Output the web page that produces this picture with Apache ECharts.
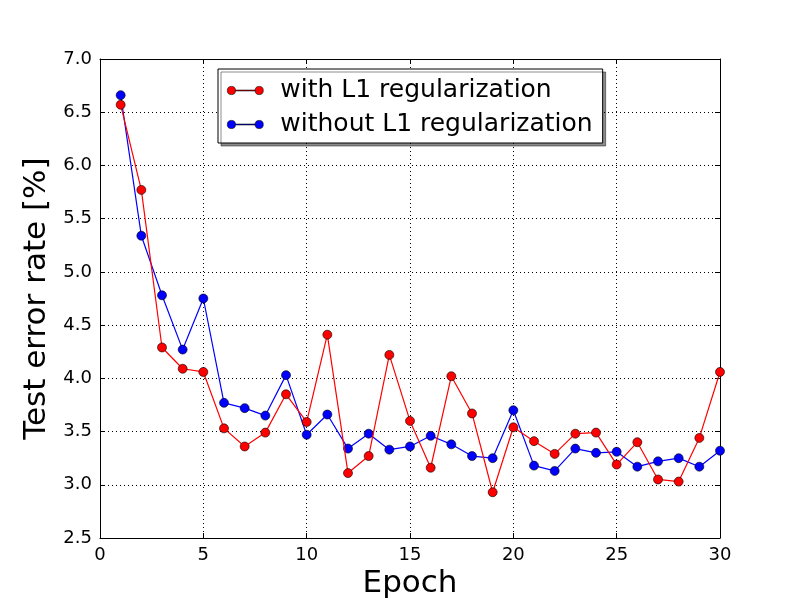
<!DOCTYPE html>
<html>
<head>
<meta charset="utf-8">
<script src="https://cdn.jsdelivr.net/npm/echarts@6/dist/echarts.min.js"></script>
<style>html,body{margin:0;padding:0;background:#fff;}#c{width:800px;height:598px;}</style>
</head>
<body>
<div id="c"></div>
<script>
var epochs = [1,2,3,4,5,6,7,8,9,10,11,12,13,14,15,16,17,18,19,20,21,22,23,24,25,26,27,28,29,30];
var withL1 = [6.57,5.77,4.29,4.09,4.06,3.53,3.36,3.49,3.85,3.59,4.41,3.11,3.27,4.22,3.60,3.16,4.02,3.67,2.93,3.54,3.41,3.29,3.48,3.49,3.19,3.40,3.05,3.03,3.44,4.06];
var withoutL1 = [6.66,5.34,4.78,4.27,4.75,3.77,3.72,3.65,4.03,3.47,3.66,3.34,3.48,3.33,3.36,3.46,3.38,3.27,3.25,3.70,3.18,3.13,3.34,3.30,3.31,3.17,3.22,3.25,3.17,3.32];
var seriesNames = ['with L1 regularization','without L1 regularization'];
var xTicks = [0,5,10,15,20,25,30];
var yTicks = [2.5,3.0,3.5,4.0,4.5,5.0,5.5,6.0,6.5,7.0];

function pairs(vals){ return epochs.map(function(e,i){ return [e, vals[i]]; }); }

var FONT = 'DejaVu Sans';
var chart = echarts.init(document.getElementById('c'), null, {renderer:'canvas'});
var icon = 'path://M1,5 A4,4 0 1,1 9,5 A4,4 0 1,1 1,5 Z M9,4.6 L28,4.6 L28,5.4 L9,5.4 Z M28,5 A4,4 0 1,1 36,5 A4,4 0 1,1 28,5 Z';
var axisLineStyle = {color:'#000', width:1};
var tickCommon = {show:true, inside:true, length:5, lineStyle:{color:'#000', width:1}};
chart.setOption({
  animation:false,
  backgroundColor:'#fff',
  textStyle:{fontFamily:FONT},
  grid:{left:100, right:80, top:59, bottom:60, outerBoundsMode:'none'},
  legend:{
    left:218, top:69, width:386, height:74,
    orient:'vertical',
    padding:[9,10,6,9],
    itemGap:9,
    itemWidth:36, itemHeight:10,
    backgroundColor:'#fff',
    borderColor:'#000', borderWidth:1,
    shadowColor:'rgba(0,0,0,0.45)', shadowOffsetX:3, shadowOffsetY:3, shadowBlur:0,
    icon:icon,
    itemStyle:{borderColor:'#000', borderWidth:0.6},
    textStyle:{fontFamily:FONT, fontSize:25, color:'#000', padding:[0,0,0,12]},
    data:seriesNames
  },
  xAxis:[{
    type:'value', min:0, max:30, interval:5, position:'bottom',
    name:'Epoch', nameLocation:'middle', nameGap:30,
    nameTextStyle:{fontFamily:FONT, fontSize:31, color:'#000'},
    axisLine:{show:true, onZero:false, lineStyle:axisLineStyle},
    axisTick:tickCommon,
    axisLabel:{fontFamily:FONT, fontSize:18, color:'#000', margin:8},
    splitLine:{show:true, lineStyle:{color:'#000', type:[1,3], width:1}}
  },{
    type:'value', min:0, max:30, interval:5, position:'top',
    axisLine:{show:true, onZero:false, lineStyle:axisLineStyle},
    axisTick:tickCommon, axisLabel:{show:false}, splitLine:{show:false}
  }],
  yAxis:[{
    type:'value', min:2.5, max:7.0, interval:0.5, position:'left',
    name:'Test error rate [%]', nameLocation:'middle', nameGap:43,
    nameTextStyle:{fontFamily:FONT, fontSize:31, color:'#000'},
    axisLine:{show:true, onZero:false, lineStyle:axisLineStyle},
    axisTick:tickCommon,
    axisLabel:{fontFamily:FONT, fontSize:18, color:'#000', margin:8, formatter:function(v){return v.toFixed(1);}},
    splitLine:{show:true, lineStyle:{color:'#000', type:[1,3], width:1}}
  },{
    type:'value', min:2.5, max:7.0, interval:0.5, position:'right',
    axisLine:{show:true, onZero:false, lineStyle:axisLineStyle},
    axisTick:tickCommon, axisLabel:{show:false}, splitLine:{show:false}
  }],
  series:[{
    name:seriesNames[0], type:'line', data:pairs(withL1),
    symbol:'circle', symbolSize:9, showSymbol:true,
    lineStyle:{color:'#ff0000', width:1.2},
    itemStyle:{color:'#ff0000', borderColor:'#000', borderWidth:0.6},
    z:3
  },{
    name:seriesNames[1], type:'line', data:pairs(withoutL1),
    symbol:'circle', symbolSize:9, showSymbol:true,
    lineStyle:{color:'#0000ff', width:1.2},
    itemStyle:{color:'#0000ff', borderColor:'#000', borderWidth:0.6},
    z:2
  }]
});
</script>
</body>
</html>
